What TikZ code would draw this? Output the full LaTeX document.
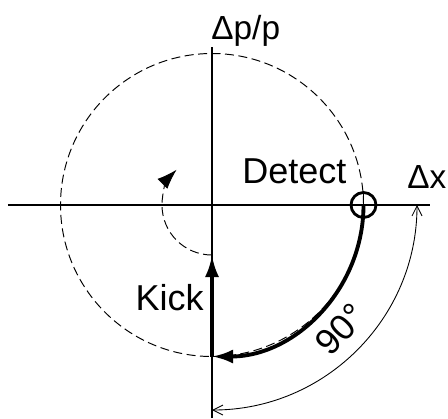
\documentclass[tikz,border=0pt]{standalone}
\usepackage{fontspec}
\setmainfont{Liberation Sans}
\usetikzlibrary{arrows.meta}
\begin{document}
\begin{tikzpicture}[
    axis/.style={line width=0.8pt},
    orbit/.style={line width=0.55pt, dash pattern=on 0.18cm off 0.09cm},
    heavy/.style={line width=2.2pt},
    lab/.style={font=\fontsize{20.5}{24}\selectfont, inner sep=0pt},
    axlab/.style={font=\fontsize{19}{22}\selectfont, inner sep=0pt}]
    \useasboundingbox (-4.24,-4.26) rectangle (4.72,4.10);
    \coordinate (O) at (0,0);
    \coordinate (xl) at (-4.08,0);
    \coordinate (xr) at (4.36,0);
    \coordinate (yt) at (0,3.16);
    \coordinate (yb) at (0,-4.26);
    \coordinate (detect) at (0:3.03);
    \coordinate (bottom) at (-90:3.03);
    \coordinate (tip) at (0,-1);
    \coordinate (outA) at (0:4.1);
    \draw[axis] (xl) -- (xr);
    \draw[axis] (yb) -- (yt);
    \draw[orbit] (O) circle (3.03);
    \draw[heavy, -{Latex[length=0.42cm,width=0.28cm]}] (detect) arc[start angle=0, end angle=-90, radius=3.03];
    \draw[heavy, -{Latex[length=0.44cm,width=0.28cm]}] (bottom) -- (tip);
    \draw[orbit, -{Latex[length=0.4cm,width=0.28cm]}] (tip) arc[start angle=270, end angle=135, radius=1];
    \draw[line width=1.6pt] (detect) circle (0.25);
    \draw[line width=0.6pt] (detect) -- ++(0,0.25);
    \draw[line width=0.5pt, {Straight Barb[length=0.2cm,width=0.2cm]}-{Straight Barb[length=0.2cm,width=0.2cm]}] (outA) arc[start angle=0, end angle=-90, radius=4.1];
    \node[axlab, anchor=base west] (dp) at (-0.02,3.32) {Δp/p};
    \node[axlab, anchor=base west] (dx) at (3.9,0.34) {Δx};
    \node[lab, anchor=base west] (det) at (0.6,0.44) {Detect};
    \node[lab, anchor=base east] (kick) at (-0.16,-2.1) {Kick};
    \node[lab, rotate=46] (deg) at (-44:3.58) {90°};
\end{tikzpicture}
\end{document}
